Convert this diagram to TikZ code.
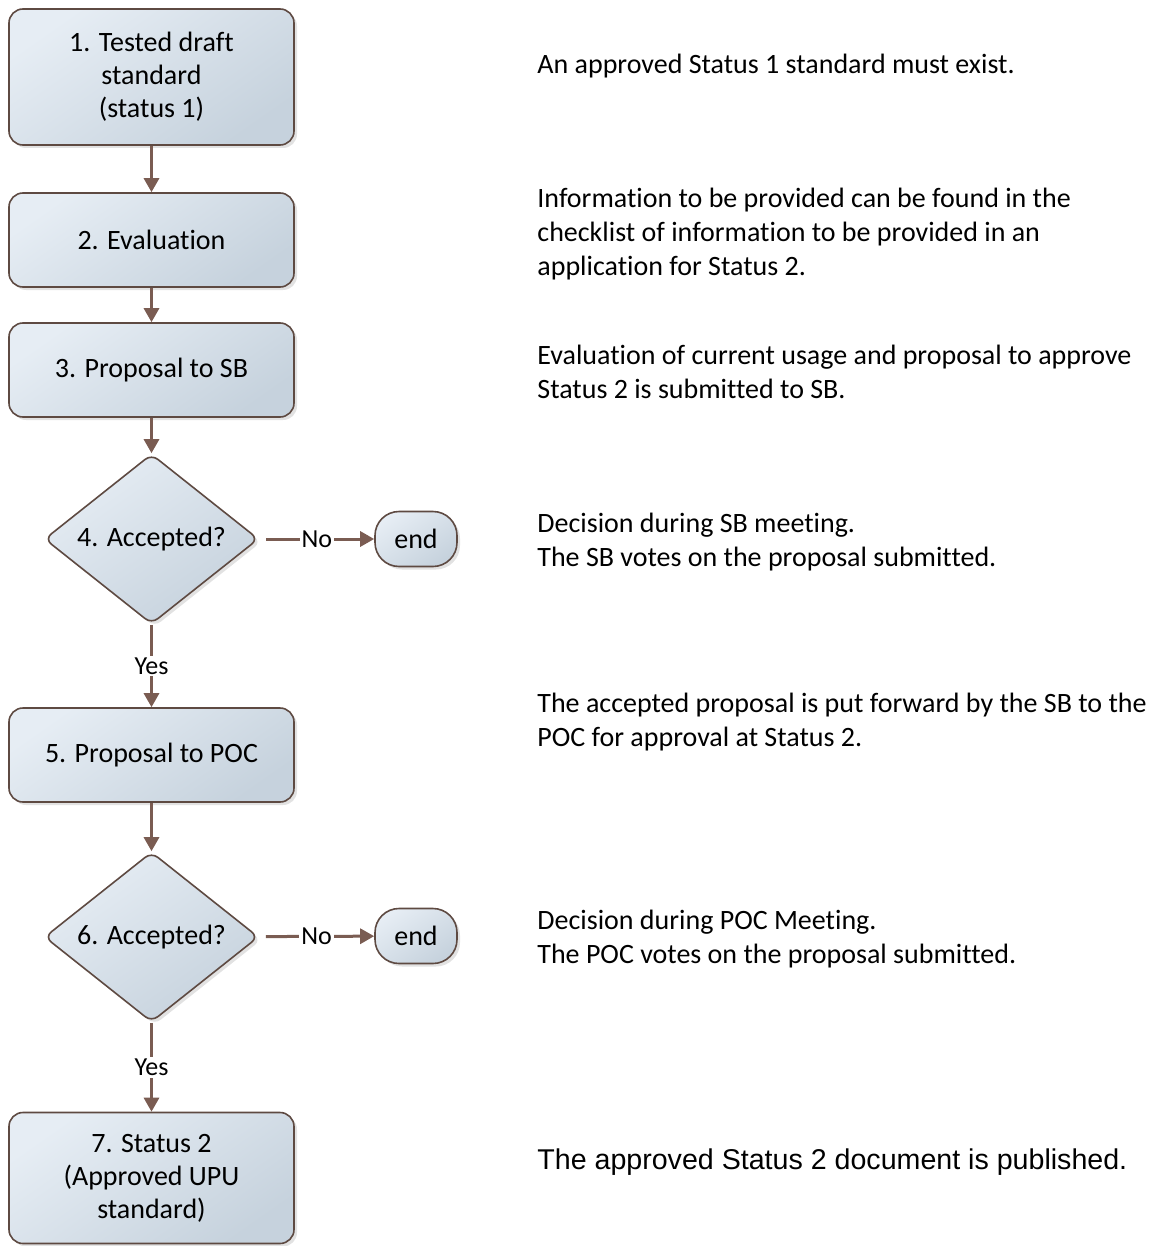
\documentclass[tikz,border=0pt]{standalone}
\usepackage{fontspec}
\setmainfont{Carlito}[Ligatures=NoCommon]
\newfontfamily\arialfont{Liberation Sans}
\usepackage{tikz}
\usetikzlibrary{shapes.geometric,arrows.meta,shadows}
\definecolor{boxtop}{HTML}{E6EDF4}
\definecolor{boxbot}{HTML}{C6D2DD}
\definecolor{edgebrown}{HTML}{5E4A42}
\definecolor{arrowbrown}{HTML}{7A5C52}

\begin{document}
\begin{tikzpicture}[x=0.5pt,y=-0.5pt,
    box/.style={draw=edgebrown, line width=0.8pt, rounded corners=7pt,
      top color=boxtop, bottom color=boxbot, shading angle=35,
      drop shadow={shadow xshift=1.5pt, shadow yshift=-1.5pt, opacity=.25, fill=black!45},
      minimum width=142.5pt, align=center, font=\fontsize{14}{16.5}\selectfont},
    decision/.style={box, diamond, aspect=1.27, minimum width=107pt,
      minimum height=85pt, inner sep=1pt, rounded corners=4pt},
    endbox/.style={box, minimum width=41pt, minimum height=27.5pt,
      rounded corners=12pt, inner sep=0pt},
    flow/.style={draw=arrowbrown, line width=1.5pt, -{Triangle[length=7pt,width=7.5pt]}},
    lbl/.style={fill=white, inner sep=1pt, font=\fontsize{13}{15}\selectfont},
    note/.style={anchor=west, align=left, inner sep=0pt, font=\fontsize{14}{17}\selectfont}]
    \useasboundingbox (0,0) rectangle (1164,1246);

    \node[box, minimum height=68pt] (b1) at (151.5,77) {1. Tested draft\\standard\\(status 1)};
    \node[box, minimum height=47pt] (b2) at (151.5,240) {2. Evaluation};
    \node[box, minimum height=47pt] (b3) at (151.5,370) {3. Proposal to SB};
    \node[decision] (d4) at (151.5,539) {4. Accepted?};
    \node[endbox] (e4) at (416,539) {end};
    \node[box, minimum height=47pt] (b5) at (151.5,755) {5. Proposal to POC};
    \node[decision] (d6) at (151.5,937) {6. Accepted?};
    \node[endbox] (e6) at (416,936) {end};
    \node[box, minimum height=65.5pt] (b7) at (151.5,1178) {7. Status 2\\(Approved UPU\\standard)};

    \draw[flow] (b1) -- (b2);
    \draw[flow] (b2) -- (b3);
    \draw[flow] (b3) -- (d4);
    \draw[flow, shorten <=3.5pt] (d4) -- node[lbl] {No} (e4);
    \draw[flow] (d4) -- node[lbl] {Yes} (b5);
    \draw[flow] (b5) -- (d6);
    \draw[flow, shorten <=3.5pt] (d6) -- node[lbl] {No} (e6);
    \draw[flow] (d6) -- node[lbl] {Yes} (b7);

    \node[note] (n1) at (537,66) {An approved Status 1 standard must exist.};
    \node[note] (n2) at (537,234) {Information to be provided can be found in the\\checklist of information to be provided in an\\application for Status 2.};
    \node[note] (n3) at (537,372) {Evaluation of current usage and proposal to approve\\Status 2 is submitted to SB.};
    \node[note] (n4) at (537,542) {Decision during SB meeting.\\The SB votes on the proposal submitted.};
    \node[note] (n5) at (537,722) {The accepted proposal is put forward by the SB to the\\POC for approval at Status 2.};
    \node[note] (n6) at (537,939) {Decision during POC Meeting.\\The POC votes on the proposal submitted.};
    \node[note, font=\arialfont\fontsize{14.3}{17}\selectfont] (n7) at (537,1162) {The approved Status 2 document is published.};
\end{tikzpicture}
\end{document}
